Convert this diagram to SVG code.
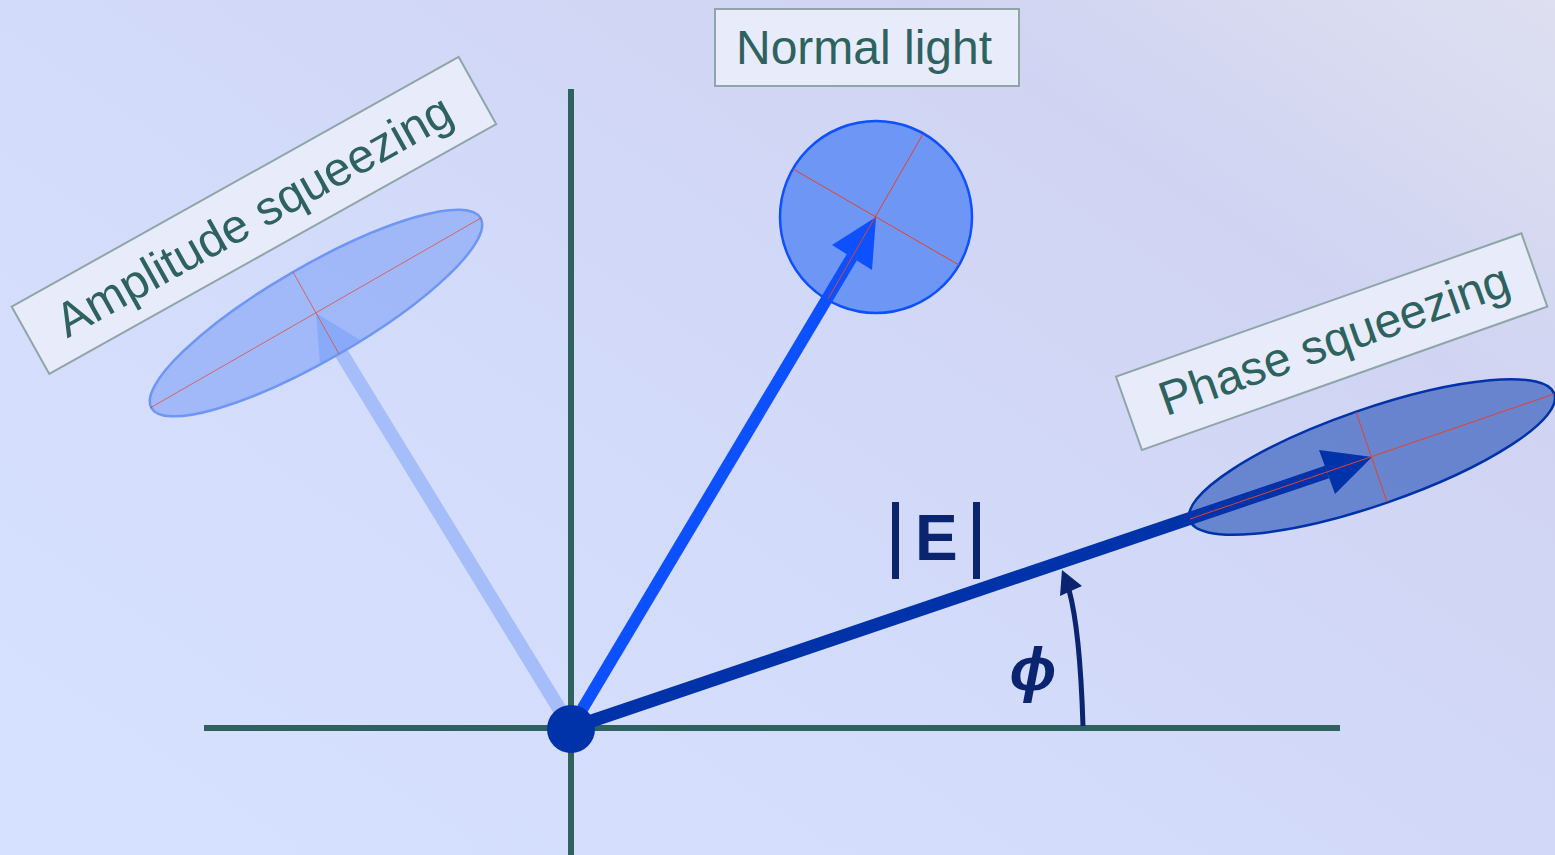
<svg xmlns="http://www.w3.org/2000/svg" width="1555" height="855" viewBox="0 0 1555 855">
<defs>
<linearGradient id="bg" x1="0" y1="0.8" x2="1" y2="0">
<stop offset="0" stop-color="#D6E0FF"/>
<stop offset="0.4" stop-color="#D3DBFA"/>
<stop offset="0.75" stop-color="#D0D4F2"/>
<stop offset="1" stop-color="#DEDFF0"/>
</linearGradient>
<style>
.axis{stroke:#2F625E;stroke-width:6;fill:none}
.box{fill:#E8ECFA;stroke:#8EA6A8;stroke-width:2}
.lbl{font-family:"Liberation Sans",Arial,sans-serif;font-size:48px;fill:#2E625E}
.red{stroke:#E8402A;stroke-width:1;fill:none}
.math{font-family:"Liberation Sans",Arial,sans-serif;fill:#0A2470}
</style>
</defs>
<rect width="1555" height="855" fill="url(#bg)"/>
<g id="axes">
<line class="axis" x1="571" y1="89" x2="571" y2="855"/>
<line class="axis" x1="204" y1="728" x2="1340" y2="728"/>
</g>
<g id="normal-light">
<circle cx="876" cy="217" r="96" fill="#6E96F5" stroke="#0D50FF" stroke-width="2.5"/>
</g>
<g id="phase-squeezing">
<ellipse cx="1372" cy="457" rx="193" ry="48" transform="rotate(-19.1 1372 457)" fill="#0033AA" fill-opacity="0.5" stroke="#0033AA" stroke-width="2.5"/>
</g>
<g id="connectors">
<line x1="571" y1="728" x2="340" y2="351" stroke="#A5BEFA" stroke-width="14"/>
<polygon points="316,313 320,363 360,340" fill="#A5BEFA"/>
<line x1="571" y1="728" x2="852" y2="257" stroke="#0D50FF" stroke-width="12"/>
<polygon points="876,217 832,245 872,270" fill="#0D50FF"/>
<line x1="571" y1="728" x2="1327" y2="472" stroke="#0033AA" stroke-width="13"/>
<polygon points="1372,457 1319,450 1335,494" fill="#0033AA"/>
<path d="M1083,726 Q1080,630 1069,590" stroke="#0A2470" stroke-width="5" fill="none"/>
<polygon points="1062,570 1060,596 1082,586" fill="#0A2470"/>
</g>
<g id="amplitude-squeezing">
<ellipse cx="316" cy="313" rx="190" ry="47" transform="rotate(-30 316 313)" fill="#6E96F5" fill-opacity="0.5" stroke="#6E96F5" stroke-width="2.5"/>
</g>
<g id="quadrature-marks">
<line class="red" x1="793" y1="169" x2="959" y2="265"/>
<line class="red" x1="923" y1="134" x2="828" y2="299"/>
<line class="red" x1="150" y1="408" x2="481" y2="218" stroke-opacity="0.7"/>
<line class="red" x1="293" y1="272" x2="339" y2="354" stroke-opacity="0.7"/>
<line class="red" x1="1190" y1="519" x2="1554" y2="394"/>
<line class="red" x1="1356" y1="412" x2="1387" y2="502"/>
</g>
<g id="origin">
<circle cx="571" cy="729" r="24" fill="#0033AA"/>
</g>
<g id="label-normal">
<rect class="box" x="715" y="9" width="304" height="77"/>
<text class="lbl" x="736" y="64">Normal light</text>
</g>
<g id="label-amplitude" transform="translate(11.7,306.7) rotate(-29.2)">
<rect class="box" x="0" y="0" width="512" height="77"/>
<text class="lbl" x="33" y="55">Amplitude squeezing</text>
</g>
<g id="label-phase" transform="translate(1116,376.7) rotate(-19.47)">
<rect class="box" x="0" y="0" width="430" height="77.7"/>
<text class="lbl" x="34" y="54">Phase squeezing</text>
</g>
<g id="label-E">
<rect x="892" y="502" width="7" height="77" fill="#0A2470"/>
<text class="math" x="915" y="560" font-size="64" font-weight="bold">E</text>
<rect x="973" y="502" width="7" height="77" fill="#0A2470"/>
</g>
<g id="label-phi">
<text class="math" x="1033" y="690" font-size="62" font-weight="bold" font-style="italic" text-anchor="middle">ϕ</text>
</g>
</svg>
